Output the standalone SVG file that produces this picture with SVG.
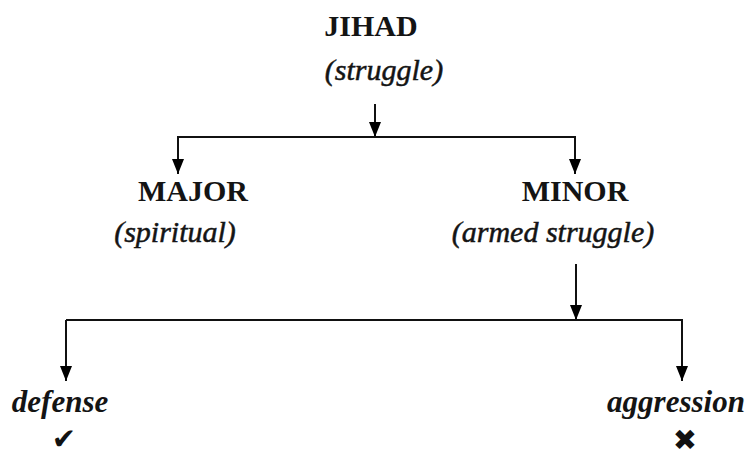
<svg xmlns="http://www.w3.org/2000/svg" width="747" height="457" viewBox="0 0 747 457">
<defs>
<marker id="ah" markerWidth="15" markerHeight="12" refX="15" refY="6" orient="auto" markerUnits="userSpaceOnUse" viewBox="0 0 15 12">
<path d="M0,0 L15,6 L0,12 Z" fill="#000"/>
</marker>
<style>
text{font-family:'Liberation Serif','Times New Roman',Times,serif;fill:#141414;text-anchor:middle}
.t{font-weight:bold;font-size:30px}
.s{font-style:italic;font-size:30px;stroke:#141414;stroke-width:0.5}
.b{font-style:italic;font-weight:bold;font-size:31px}
.m{font-family:'DejaVu Sans',sans-serif;fill:#111;font-size:29px}
.c{stroke:#111;stroke-width:2;fill:none}
</style>
</defs>
<rect width="747" height="457" fill="#fff"/>
<g id="connectors">
<line class="c" x1="375" y1="104" x2="375" y2="137" marker-end="url(#ah)"/>
<line class="c" x1="177" y1="137" x2="576" y2="137"/>
<line class="c" x1="178" y1="137" x2="178" y2="174" marker-end="url(#ah)"/>
<line class="c" x1="575" y1="137" x2="575" y2="174" marker-end="url(#ah)"/>
<line class="c" x1="576" y1="264" x2="576" y2="320" marker-end="url(#ah)"/>
<line class="c" x1="66" y1="320" x2="683" y2="320"/>
<line class="c" x1="66" y1="320" x2="66" y2="381" marker-end="url(#ah)"/>
<line class="c" x1="682" y1="320" x2="682" y2="381" marker-end="url(#ah)"/>
</g>
<g id="jihad">
<text class="t" x="371" y="36">JIHAD</text>
<text class="s" x="384" y="80">(struggle)</text>
</g>
<g id="major">
<text class="t" x="193" y="201">MAJOR</text>
<text class="s" x="175" y="242">(spiritual)</text>
</g>
<g id="minor">
<text class="t" x="575" y="201">MINOR</text>
<text class="s" x="553" y="242">(armed struggle)</text>
</g>
<g id="defense">
<text class="b" x="60" y="412">defense</text>
<text class="m" x="64" y="449">✔</text>
</g>
<g id="aggression">
<text class="b" x="676" y="412">aggression</text>
<text class="m" x="685" y="450">✖</text>
</g>
</svg>
